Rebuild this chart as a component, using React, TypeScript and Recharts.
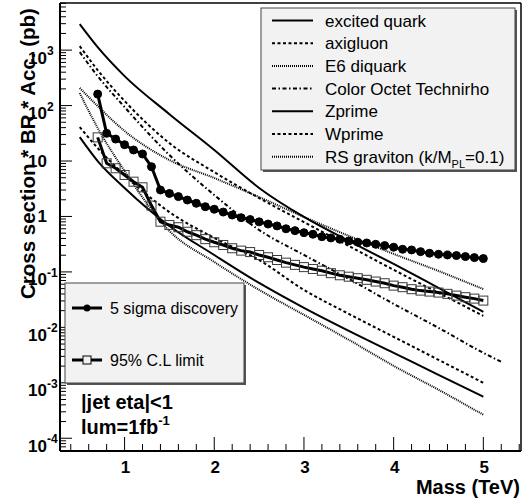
import React from 'react';
import { LineChart, Line, XAxis, YAxis, ReferenceLine } from 'recharts';

// theory curves, cross section * BR * acceptance in pb
const THEORY_MASS = [0.5, 0.7, 1.0, 1.5, 2.0, 2.5, 3.0, 3.5, 4.0, 4.5, 5.0];
const EXCITED_QUARK = [2940, 1130, 340, 70, 15.8, 3.27, 0.98, 0.362, 0.139, 0.0515, 0.019];
const AXIGLUON = [1180, 436, 121, 21, 6.3, 2.15, 0.79, 0.294, 0.109, 0.042, 0.0161];
const E6_DIQUARK = [207, 98, 34.8, 10.4, 4.94, 2.24, 0.98, 0.446, 0.211, 0.104, 0.049];
const ZPRIME = [27, 10, 3.27, 0.675, 0.202, 0.0633, 0.0225, 0.00865, 0.00347, 0.00139, 0.00056];
const WPRIME = [41, 17.1, 5.6, 1.2, 0.41, 0.164, 0.0474, 0.0175, 0.00675, 0.0026, 0.001];
const RS_GRAVITON = [168, 39.4, 6.6, 0.548, 0.151, 0.0474, 0.0168, 0.00596, 0.00202, 0.00075, 0.000265];

const TECHNIRHO_MASS = [0.5, 0.7, 1.0, 1.5, 2.0, 2.5, 3.0, 3.5, 4.0, 4.5, 5.0, 5.2];
const TECHNIRHO = [920, 340, 94, 12.8, 2.44, 0.571, 0.202, 0.0748, 0.0265, 0.0098, 0.00347, 0.00239];

// sensitivity, 1 fb^-1
const SCAN_MASS = [
  0.7, 0.8, 0.9, 1.0, 1.1, 1.2, 1.3, 1.4, 1.5, 1.6, 1.7, 1.8, 1.9, 2.0, 2.1,
  2.2, 2.3, 2.4, 2.5, 2.6, 2.7, 2.8, 2.9, 3.0, 3.1, 3.2, 3.3, 3.4, 3.5, 3.6,
  3.7, 3.8, 3.9, 4.0, 4.1, 4.2, 4.3, 4.4, 4.5, 4.6, 4.7, 4.8, 4.9, 5.0,
];
const FIVE_SIGMA = [
  161, 31.6, 24.9, 19.7, 15.8, 13.4, 7.9, 3.0, 2.6, 2.28, 1.98, 1.73, 1.5, 1.35, 1.2,
  1.06, 0.95, 0.88, 0.8, 0.73, 0.675, 0.6, 0.555, 0.51, 0.478, 0.432, 0.41, 0.388, 0.362, 0.343,
  0.333, 0.315, 0.298, 0.279, 0.256, 0.249, 0.232, 0.217, 0.208, 0.202, 0.197, 0.189, 0.181, 0.174,
];
const LIMIT_95 = [
  26.7, 9.1, 7.4, 5.6, 4.24, 3.36, 1.57, 0.805, 0.7, 0.64, 0.53, 0.46, 0.39, 0.343, 0.306,
  0.267, 0.242, 0.228, 0.202, 0.184, 0.164, 0.147, 0.134, 0.122, 0.113, 0.105, 0.095, 0.087, 0.082, 0.077,
  0.072, 0.067, 0.0625, 0.0566, 0.053, 0.0488, 0.046, 0.0442, 0.0424, 0.0402, 0.0374, 0.035, 0.033, 0.0304,
];

const THEORY_LABELS = [
  'excited quark', 'axigluon', 'E6 diquark', 'Color Octet Technirho', 'Zprime', 'Wprime', 'RS graviton',
];

const X_MIN = 0.28;
const X_MAX = 5.42;
const Y_MIN = Math.pow(10, -4.23);
const Y_MAX = Math.pow(10, 3.85);

const PLOT_LEFT = 60;
const PLOT_BOTTOM = 451;
const FONT = '"Liberation Sans", Arial, Helvetica, sans-serif';

const DASHED = '3 2.5';
const DOTTED = '1 1';
const DASHDOT = '4 2.5 1.5 2.5';

const toPoints = (xs: number[], ys: number[]) => xs.map((m, i) => ({ mass: m, xs: ys[i] }));

const xTicks: number[] = [];
for (let i = 2; i <= 27; i++) xTicks.push(Math.round(i * 2) / 10);

const yTicks: number[] = [];
for (let d = -5; d <= 3; d++) {
  for (let k = 1; k <= 9; k++) {
    const v = k * Math.pow(10, d);
    if (v >= Y_MIN && v <= Y_MAX) yTicks.push(v);
  }
}

const XTick = (props: any) => {
  const { x, payload } = props;
  const v = payload.value;
  const major = Math.abs(v - Math.round(v)) < 1e-6;
  return (
    <g>
      <line x1={x} x2={x} y1={PLOT_BOTTOM} y2={PLOT_BOTTOM - (major ? 14 : 7)} stroke="#000" strokeWidth={1} />
      {major && (
        <text x={x + 1} y={472.5} textAnchor="middle" fontFamily={FONT} fontWeight="bold" fontSize={17} fill="#000">
          {Math.round(v)}
        </text>
      )}
    </g>
  );
};

const YTick = (props: any) => {
  const { y, payload } = props;
  const lg = Math.log10(payload.value);
  const e = Math.round(lg);
  const major = Math.abs(lg - e) < 1e-6;
  let label = null;
  if (major) {
    if (e === 0 || e === 1) {
      label = (
        <text x={47} y={y + 6} textAnchor="end" fontFamily={FONT} fontWeight="bold" fontSize={17} fill="#000">
          {e === 0 ? '1' : '10'}
        </text>
      );
    } else {
      label = (
        <g fontFamily={FONT} fontWeight="bold" fill="#000">
          <text x={47} y={y + 13.5} textAnchor="end" fontSize={17}>10</text>
          <text x={47} y={y + 5} textAnchor="start" fontSize={12}>{e}</text>
        </g>
      );
    }
  }
  return (
    <g>
      <line x1={PLOT_LEFT} x2={PLOT_LEFT + (major ? 12 : 6)} y1={y} y2={y} stroke="#000" strokeWidth={1} />
      {label}
    </g>
  );
};

const SquareDot = (props: any) => {
  const { cx, cy, index } = props;
  return <rect key={`sq-${index}`} x={cx - 4.5} y={cy - 4.5} width={9} height={9} fill="none" stroke="#3a3a3a" strokeWidth={1} />;
};

const legendStyles = [
  { dash: undefined },
  { dash: DASHED },
  { dash: DOTTED },
  { dash: DASHDOT },
  { dash: undefined },
  { dash: DASHED },
  { dash: DOTTED },
];

const Overlay = () => (
  <svg width={529} height={504} style={{ position: 'absolute', left: 0, top: 0, pointerEvents: 'none' }}>
    {/* theory legend */}
    <rect x={263} y={10} width={254} height={162} fill="#555" />
    <rect x={261} y={8} width={254} height={162} fill="#f2f2f2" stroke="#444" strokeWidth={1} />
    {THEORY_LABELS.map((label, i) => {
      const cy = 20.5 + i * 22.7;
      return (
        <g key={label}>
          <line x1={272} x2={313} y1={cy} y2={cy} stroke="#000" strokeWidth={2} strokeDasharray={legendStyles[i].dash} />
          <text x={325} y={cy + 6} fontFamily={FONT} fontSize={17} fill="#000">
            {label}
            {i === 6 && (
              <>
                <tspan> (k/M</tspan>
                <tspan fontSize={11} dy={5}>PL</tspan>
                <tspan dy={-5}>=0.1)</tspan>
              </>
            )}
          </text>
        </g>
      );
    })}

    {/* sensitivity legend */}
    <rect x={67} y={285} width={179} height={100} fill="#555" />
    <rect x={65} y={283} width={179} height={100} fill="#f2f2f2" stroke="#444" strokeWidth={1} />
    <line x1={72} x2={102} y1={308} y2={308} stroke="#000" strokeWidth={3} />
    <circle cx={87} cy={308} r={3.5} fill="#000" />
    <text x={110} y={314} fontFamily={FONT} fontSize={16} fill="#000">5 sigma discovery</text>
    <line x1={72} x2={102} y1={360} y2={360} stroke="#000" strokeWidth={3} />
    <rect x={83} y={356} width={8} height={8} fill="#f2f2f2" stroke="#000" strokeWidth={1} />
    <text x={110} y={366} fontFamily={FONT} fontSize={16} fill="#000">95% C.L limit</text>

    <text x={81} y={409} fontFamily={FONT} fontWeight="bold" fontSize={20} fill="#000">|jet eta|&lt;1</text>
    <text x={81} y={434} fontFamily={FONT} fontWeight="bold" fontSize={20} fill="#000">
      lum=1fb<tspan fontSize={13} dy={-9}>-1</tspan>
    </text>

    {/* axis titles */}
    <text x={520} y={494} textAnchor="end" fontFamily={FONT} fontWeight="bold" fontSize={20} fill="#000">Mass (TeV)</text>
    <text
      transform="translate(35,299) rotate(-90)"
      x={0}
      y={0}
      textAnchor="start"
      fontFamily={FONT}
      fontWeight="bold"
      fontSize={20.5}
      fill="#000"
    >
      Cross section * BR * Acc. (pb)
    </text>
  </svg>
);

const App: React.FC = () => {
  return (
    <div style={{ position: 'absolute', left: 0, top: 0, width: 529, height: 504, background: '#fff' }}>
      <LineChart width={529} height={504} margin={{ top: 3, right: 8, bottom: 0, left: 0 }}>
        <XAxis
          type="number"
          dataKey="mass"
          domain={[X_MIN, X_MAX]}
          allowDataOverflow
          ticks={xTicks}
          interval={0}
          tick={<XTick />}
          tickLine={false}
          axisLine={{ stroke: '#000', strokeWidth: 2 }}
          height={53}
        />
        <YAxis
          type="number"
          scale="log"
          domain={[Y_MIN, Y_MAX]}
          allowDataOverflow
          ticks={yTicks}
          interval={0}
          tick={<YTick />}
          tickLine={false}
          axisLine={{ stroke: '#000', strokeWidth: 2 }}
          width={60}
        />
        <ReferenceLine y={Y_MAX} stroke="#000" strokeWidth={1.5} />
        <ReferenceLine x={X_MAX} stroke="#000" strokeWidth={1.5} />

        <Line data={toPoints(THEORY_MASS, EXCITED_QUARK)} dataKey="xs" type="monotone" stroke="#000" strokeWidth={2} dot={false} isAnimationActive={false} />
        <Line data={toPoints(THEORY_MASS, AXIGLUON)} dataKey="xs" type="monotone" stroke="#000" strokeWidth={2} strokeDasharray={DASHED} dot={false} isAnimationActive={false} />
        <Line data={toPoints(THEORY_MASS, E6_DIQUARK)} dataKey="xs" type="monotone" stroke="#000" strokeWidth={2} strokeDasharray={DOTTED} dot={false} isAnimationActive={false} />
        <Line data={toPoints(TECHNIRHO_MASS, TECHNIRHO)} dataKey="xs" type="monotone" stroke="#000" strokeWidth={2} strokeDasharray={DASHDOT} dot={false} isAnimationActive={false} />
        <Line data={toPoints(THEORY_MASS, ZPRIME)} dataKey="xs" type="monotone" stroke="#000" strokeWidth={2} dot={false} isAnimationActive={false} />
        <Line data={toPoints(THEORY_MASS, WPRIME)} dataKey="xs" type="monotone" stroke="#000" strokeWidth={2} strokeDasharray={DASHED} dot={false} isAnimationActive={false} />
        <Line data={toPoints(THEORY_MASS, RS_GRAVITON)} dataKey="xs" type="monotone" stroke="#000" strokeWidth={2} strokeDasharray={DOTTED} dot={false} isAnimationActive={false} />

        <Line data={toPoints(SCAN_MASS, FIVE_SIGMA)} dataKey="xs" type="linear" stroke="#000" strokeWidth={3} dot={{ r: 4, fill: '#000', stroke: '#000', strokeWidth: 1 }} isAnimationActive={false} />
        <Line data={toPoints(SCAN_MASS, LIMIT_95)} dataKey="xs" type="linear" stroke="#000" strokeWidth={3} dot={<SquareDot />} isAnimationActive={false} />
      </LineChart>
      <Overlay />
    </div>
  );
};

export default App;
